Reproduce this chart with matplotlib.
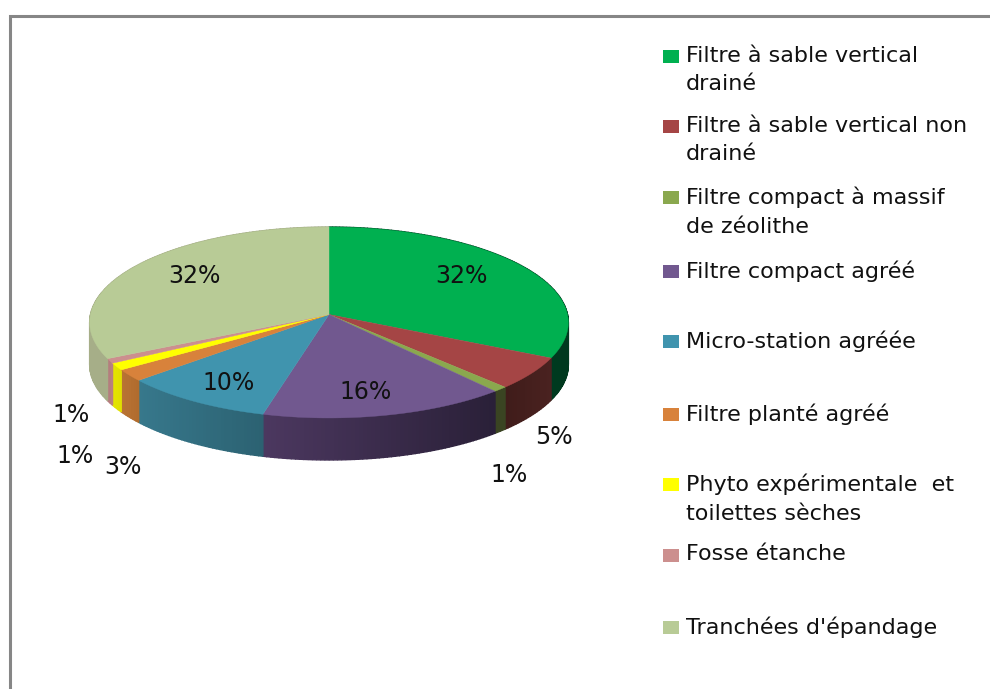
import numpy as np
from matplotlib import pyplot as plt
from matplotlib.patches import Polygon, Rectangle
from matplotlib.colors import to_rgb

categories = [
    "Filtre à sable vertical\ndrainé",
    "Filtre à sable vertical non\ndrainé",
    "Filtre compact à massif\nde zéolithe",
    "Filtre compact agréé",
    "Micro-station agréée",
    "Filtre planté agréé",
    "Phyto expérimentale  et\ntoilettes sèches",
    "Fosse étanche",
    "Tranchées d'épandage",
]
values = [32.3, 5.5, 0.9, 15.4, 9.5, 2.0, 1.2, 0.8, 32.4]
labels = ["32%", "5%", "1%", "16%", "10%", "3%", "1%", "1%", "32%"]

top_colors = ["#00B050", "#A54545", "#8AA84E", "#71588F", "#4094AE",
              "#D8823B", "#FFFF00", "#CC8F8E", "#B8CB96"]
side_left = ["#004A28", "#3F1C1A", "#3A4422", "#4C3860", "#37788C",
             "#BA7434", "#E6E600", "#B07C7C", "#A6AE88"]
side_right = ["#00391F", "#4A2220", "#3A4422", "#2A2038", "#2C6272",
              "#B06C2E", "#E0E000", "#B88080", "#A0A882"]

label_xy = [(461, 276), (554, 437), (509, 475), (366, 392), (229, 383),
            (123, 467), (75, 456), (71, 415), (194, 276)]
legend_y = [56, 126, 197, 271, 341, 414, 484, 555, 627]

cx, cy = 329, 314.5
rx, ry, k = 238.5, 94.8, 0.0837
depth = 42


def project(turn):
    # circle seen in perspective, turn is clockwise from the top in radians
    u, v = np.sin(turn), np.cos(turn)
    w = 1 / (1 + k * v)
    return cx + rx * u * w, cy - ry * v * w


fig = plt.figure(figsize=(9.9, 6.89), dpi=100)
ax = fig.add_axes([0, 0, 1, 1])
ax.set_xlim(0, 990)
ax.set_ylim(689, 0)
ax.axis("off")

# frame, only top and left are in the picture
ax.plot([9.5, 9.5, 990], [689, 15.5, 15.5], color="#868686", lw=2.2,
        solid_joinstyle="miter")

edges = np.cumsum([0] + values) / sum(values) * 2 * np.pi

# sides first, the tops cover whatever is at the back
for i in range(len(values)):
    turns = np.linspace(edges[i], edges[i + 1], max(3, int(values[i] * 4)))
    xs, ys = project(turns)
    c0 = np.array(to_rgb(side_left[i]))
    c1 = np.array(to_rgb(side_right[i]))
    for j in range(len(turns) - 1):
        # x grows to the right on the front part
        t = (xs[j] - xs.min()) / max(xs.max() - xs.min(), 1)
        col = c0 + (c1 - c0) * t
        pts = [(xs[j], ys[j]), (xs[j + 1], ys[j + 1]),
               (xs[j + 1], ys[j + 1] + depth), (xs[j], ys[j] + depth)]
        ax.add_patch(Polygon(pts, closed=True, facecolor=col, edgecolor=col,
                             lw=1.0, zorder=2))

for i in range(len(values)):
    turns = np.linspace(edges[i], edges[i + 1], 120)
    xs, ys = project(turns)
    pts = [(cx, cy)] + list(zip(xs, ys))
    ax.add_patch(Polygon(pts, closed=True, facecolor=top_colors[i],
                         edgecolor=top_colors[i], lw=0.3, zorder=3))

for lab, (x, y) in zip(labels, label_xy):
    ax.text(x, y, lab, ha="center", va="center", fontsize=17, color="#111111",
            zorder=5)

for name, col, y in zip(categories, top_colors, legend_y):
    ax.add_patch(Rectangle((663, y - 6), 16, 13, facecolor=col, edgecolor="none"))
    ax.text(686, y - 10.5, name, ha="left", va="top", fontsize=16,
            color="#111111", linespacing=1.56)

fig.savefig("out.png", dpi=100)
